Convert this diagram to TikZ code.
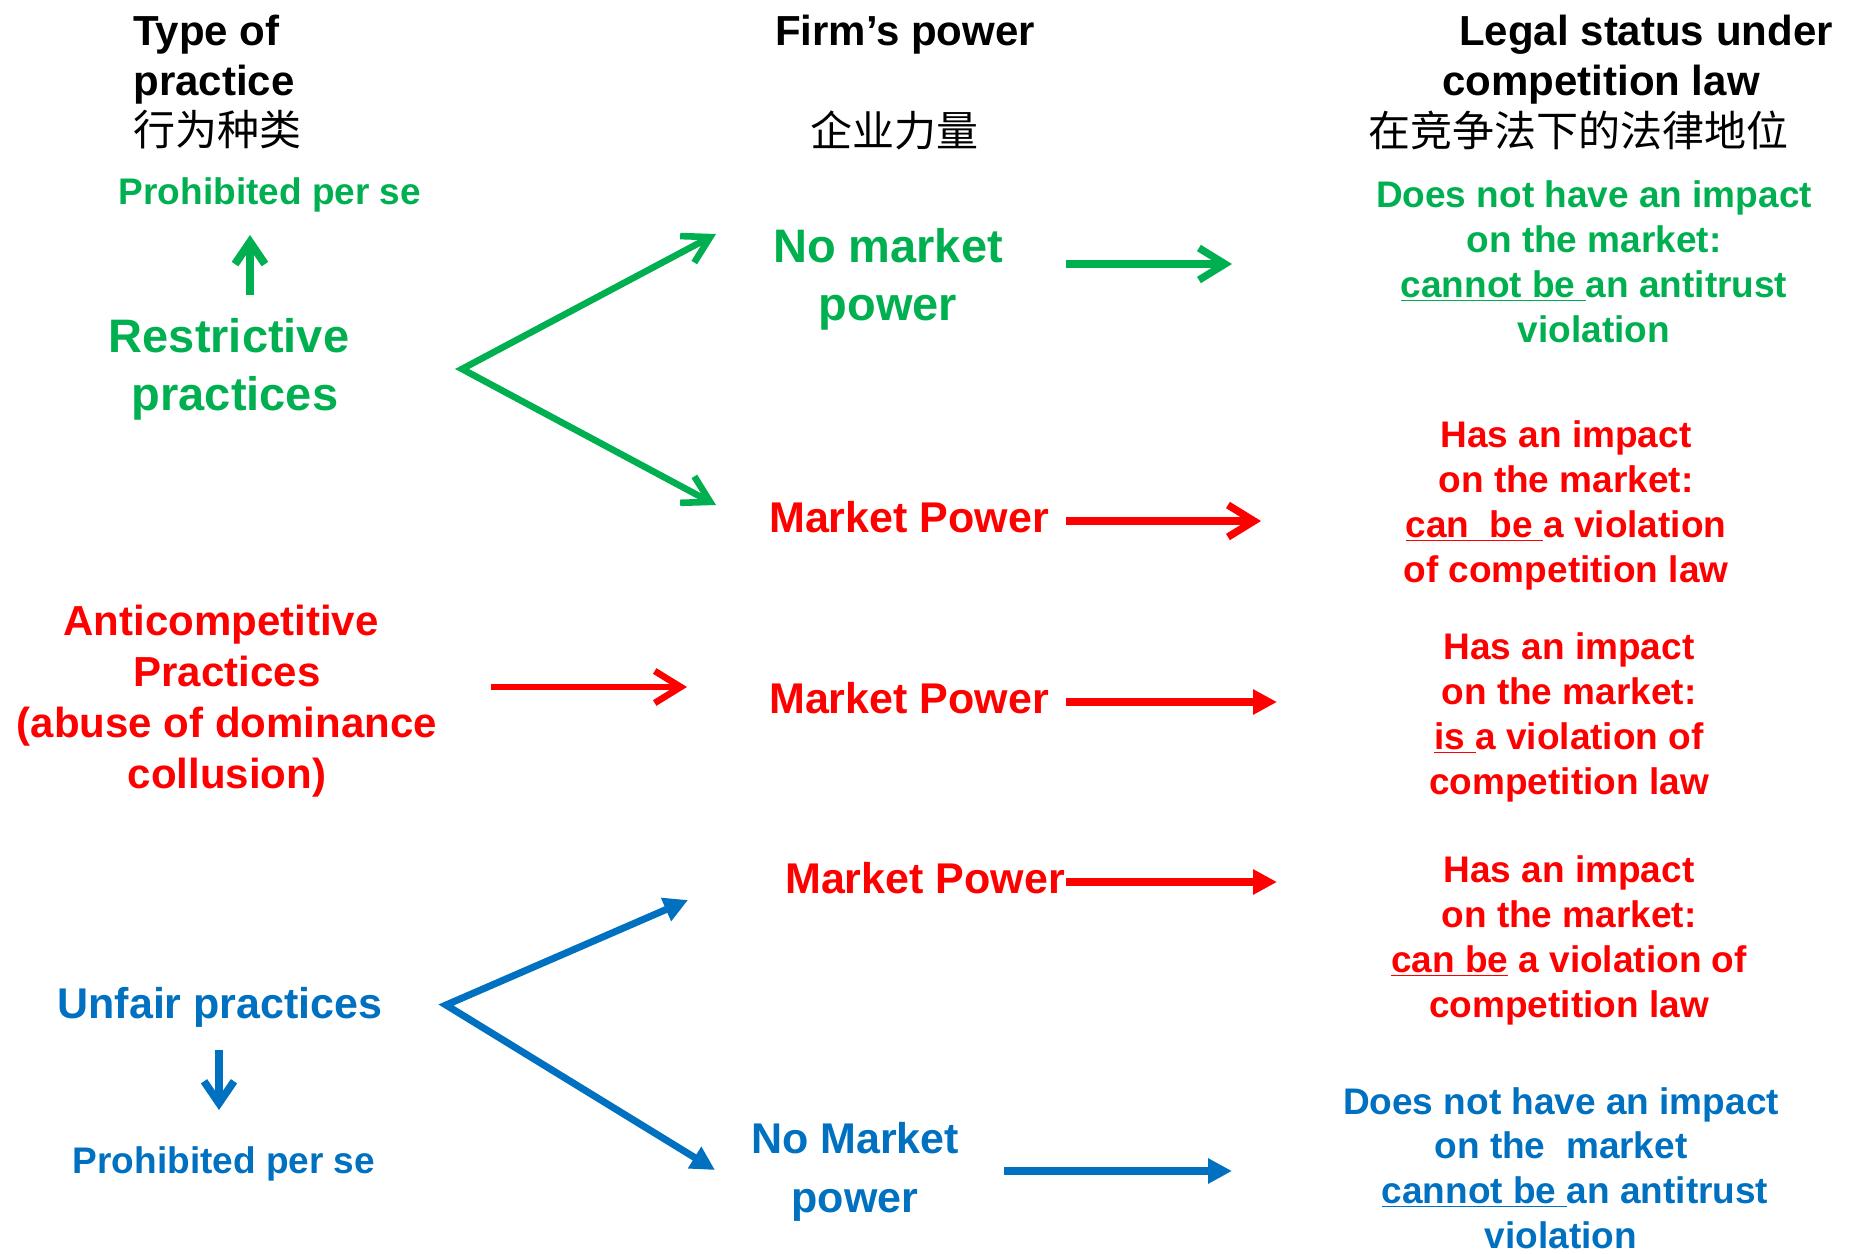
\documentclass[tikz,border=0pt]{standalone}
\usepackage{fontspec}
\setmainfont{Liberation Sans}
\newfontfamily\cjk{Noto Sans CJK SC}
\usetikzlibrary{arrows.meta}
\definecolor{cgreen}{RGB}{0,176,80}
\definecolor{cred}{RGB}{255,0,0}
\definecolor{cblue}{RGB}{0,112,192}
\begin{document}
\begin{tikzpicture}[x=0.5pt,y=-0.5pt,
  hdr/.style={font=\fontsize{21}{25}\selectfont\bfseries, inner sep=0pt},
  hdrcn/.style={font=\fontsize{21}{25}\selectfont\cjk, inner sep=0pt},
  biggreen/.style={font=\fontsize{23.5}{29}\selectfont\bfseries, align=center, inner sep=0pt, text=cgreen},
  bigtxt/.style={font=\fontsize{21.5}{29}\selectfont\bfseries, align=center, inner sep=0pt},
  anti/.style={font=\fontsize{21}{25.5}\selectfont\bfseries, align=center, inner sep=0pt, text=cred},
  smalltxt/.style={font=\fontsize{18.5}{22.5}\selectfont\bfseries, align=center, inner sep=0pt},
  openarr/.style={-{Straight Barb[length=13pt,width=16pt]}, line width=3.7pt},
  thinarr/.style={-{Straight Barb[length=11pt,width=15pt]}, line width=4pt},
  triarr/.style={-{Triangle[length=12pt,width=12pt]}, line width=3.6pt},
  chevgreen/.style={{Straight Barb[length=13pt,width=15pt]}-{Straight Barb[length=13pt,width=15pt]}, line width=3.3pt, draw=cgreen},
  chevblue/.style={{Triangle[length=12pt,width=12pt]}-{Triangle[length=12pt,width=12pt]}, line width=3.5pt, draw=cblue}
]
\useasboundingbox (0,0) rectangle (1857,1253);

% headers
\node[hdr, anchor=west] (h1a) at (133,35) {Type of};
\node[hdr, anchor=west] (h1b) at (133,85) {practice};
\node[hdrcn, anchor=west] (h1c) at (133,130) {行为种类};
\node[hdr] (h2a) at (905,35) {Firm’s power};
\node[hdrcn] (h2c) at (894,130) {企业力量};
\node[hdr] (h3a) at (1646,35) {Legal status under};
\node[hdr] (h3b) at (1601,85) {competition law};
\node[hdrcn] (h3c) at (1578,130) {在竞争法下的法律地位};

% green row
\node[smalltxt, text=cgreen] (gper) at (270,195) {Prohibited per se};
\node[biggreen] (restr) at (231,369) {\hspace*{-2pt}Restrictive\\\hspace*{4pt}practices};
\node[biggreen] (gnmp) at (888,279) {No market\\power};
\node[smalltxt, text=cgreen] (gres) at (1594,262) {Does not have an impact\\on the market:\\\underline{cannot be\ }an antitrust\\violation};
\coordinate (gupS) at (250,295);
\coordinate (gupE) at (250,235);
\coordinate (gv) at (462,369);
\coordinate (gc1) at (716,234);
\coordinate (gc2) at (716,505);
\coordinate (grS) at (1066,264);
\coordinate (grE) at (1232,264);
\draw[thinarr, draw=cgreen] (gupS) -- (gupE);
\draw[chevgreen] (gc1) -- (gv) -- (gc2);
\draw[openarr, draw=cgreen] (grS) -- (grE);

% red row 1
\node[bigtxt, text=cred] (mp1) at (909,517) {Market Power};
\node[smalltxt, text=cred] (rres1) at (1566,505) {Has an impact\\on the market:\\\underline{can\ \ be\ }a violation\\of competition law};
\coordinate (r1S) at (1066,521);
\coordinate (r1E) at (1261,521);
\draw[openarr, draw=cred] (r1S) -- (r1E);

% red row 2
\node[anti] (anti) at (227,701) {\hspace*{-6pt}Anticompetitive\\Practices\\(abuse of dominance\\collusion)};
\coordinate (r2S) at (491,687);
\coordinate (r2E) at (687,687);
\draw[openarr, draw=cred, line width=3.3pt] (r2S) -- (r2E);
\node[bigtxt, text=cred] (mp2) at (909,698) {Market Power};
\coordinate (r3S) at (1066,702);
\coordinate (r3E) at (1277,702);
\draw[triarr, draw=cred] (r3S) -- (r3E);
\node[smalltxt, text=cred] (rres2) at (1569,717) {Has an impact\\on the market:\\\underline{is\ }a violation of\\competition law};

% red row 3
\node[bigtxt, text=cred] (mp3) at (925,878) {Market Power};
\coordinate (r4S) at (1066,882);
\coordinate (r4E) at (1277,882);
\draw[triarr, draw=cred] (r4S) -- (r4E);
\node[smalltxt, text=cred] (rres3) at (1569,940) {Has an impact\\on the market:\\\underline{can be}\ a violation of\\competition law};

% blue row
\node[bigtxt, text=cblue] (unfair) at (220,1007) {Unfair practices};
\coordinate (bdS) at (219,1050);
\coordinate (bdE) at (219,1110);
\draw[thinarr, draw=cblue, line width=3.8pt] (bdS) -- (bdE);
\node[smalltxt, text=cblue] (bper) at (224,1164) {Prohibited per se};
\coordinate (bv) at (446,1005);
\coordinate (bc1) at (688,900);
\coordinate (bc2) at (715,1170);
\draw[chevblue] (bc1) -- (bv) -- (bc2);
\node[bigtxt, text=cblue, font=\fontsize{21.5}{29.5}\selectfont\bfseries] (bnmp) at (855,1172) {No Market\\power};
\coordinate (brS) at (1004,1171);
\coordinate (brE) at (1232,1171);
\draw[triarr, draw=cblue] (brS) -- (brE);
\node[smalltxt, text=cblue, font=\fontsize{18.5}{22.3}\selectfont\bfseries] (bres) at (1561,1168) {Does not have an impact\\on the\ \ market\\\hspace*{14pt}\underline{cannot be\ }an antitrust\\violation};
\end{tikzpicture}
\end{document}
